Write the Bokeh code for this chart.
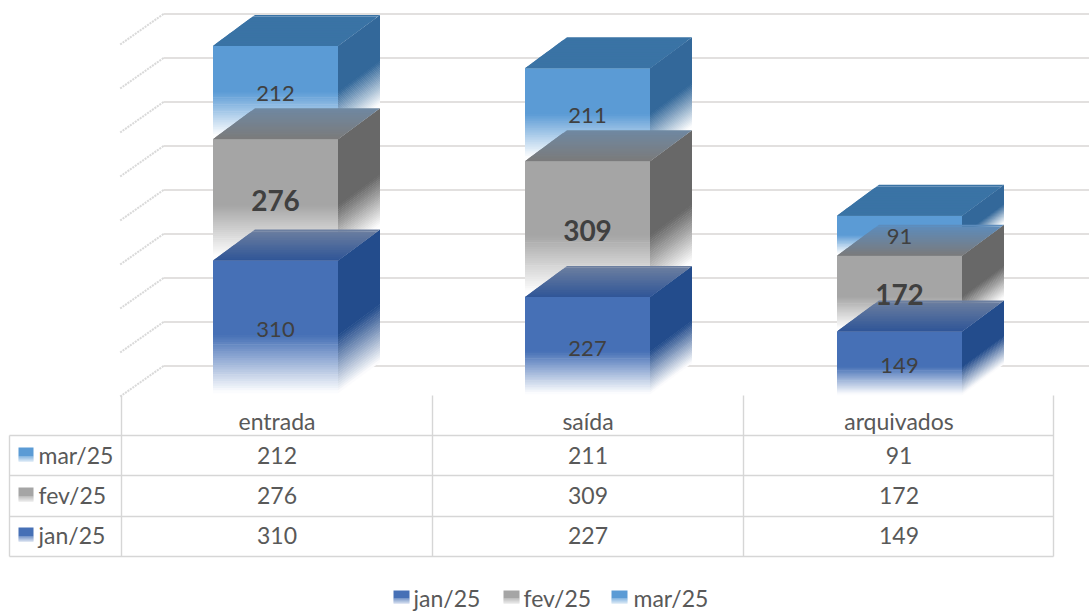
from bokeh.plotting import figure
from bokeh.models import Range1d
from bokeh.core.properties import value
from bokeh.embed import file_html
from bokeh.resources import INLINE

categories = ["entrada", "saída", "arquivados"]
jan = [310, 227, 149]
fev = [276, 309, 172]
mar = [212, 211, 91]
y_ticks = [0, 100, 200, 300, 400, 500, 600, 700, 800]
series_names = ["jan/25", "fev/25", "mar/25"]

W, H = 1089, 612
PX_X = 312.0      # px per category
PX_Y = 0.44       # px per unit
CX0, BASE = 275.0, 396.5
BAR_W = 125 / PX_X
DX = 42 / PX_X
DY = 31 / PX_Y
FONT = value("Lato")

styles = {
    "mar/25": dict(front="#5B9BD5", side="#33689A", top_front="#3A73A5", top_back=["#3A73A5"] * 3, solid=0.5, bold=False),
    "fev/25": dict(front="#A5A5A5", side="#686868", top_front="#7B7B7B", top_back=["#6F88A2", "#6F88A2", "#5C8CBE"], solid=0.55, bold=True),
    "jan/25": dict(front="#4670B6", side="#234C8C", top_front="#2F5597", top_back=["#6E80A0"] * 3, solid=0.55, bold=False),
}
stack = {"jan/25": jan, "fev/25": fev, "mar/25": mar}
below = {"jan/25": [], "fev/25": [jan], "mar/25": [jan, fev]}


def mix(c1, c2, t):
    a = [int(c1[i:i + 2], 16) for i in (1, 3, 5)]
    b = [int(c2[i:i + 2], 16) for i in (1, 3, 5)]
    return "#%02x%02x%02x" % tuple(round(a[i] + (b[i] - a[i]) * t) for i in range(3))


p = figure(width=W, height=H, output_backend="svg", toolbar_location=None, min_border=0,
           x_range=Range1d(-CX0 / PX_X, (W - CX0) / PX_X),
           y_range=Range1d((BASE - H) / PX_Y, BASE / PX_Y))
p.axis.visible = False
p.grid.visible = False
p.outline_line_color = None
p.extra_x_ranges["px"] = Range1d(0, W)
p.extra_y_ranges["px"] = Range1d(H, 0)

# back wall gridlines and the unreadable slanted tick labels
n = len(y_ticks)
p.segment([163] * n, [t + DY for t in y_ticks], [W] * n, [t + DY for t in y_ticks],
          x_range_name="px", line_color="#d9d6d4", line_width=1.6)
p.segment([163] * n, [t + DY for t in y_ticks], [119] * n, y_ticks,
          x_range_name="px", line_color="#cfcfcf", line_width=2, line_dash="2 1", line_alpha=0.8)

FADE = 26
for name in ["mar/25", "fev/25", "jan/25"]:
    st = styles[name]
    fl, fr, ft, fb, fc = [], [], [], [], []
    sx, sy, sc = [], [], []
    tx, ty, tc = [], [], []
    for i in range(len(categories)):
        v0 = sum(s[i] for s in below[name])
        h = stack[name][i]
        v1 = v0 + h
        x0, x1 = i - BAR_W / 2, i + BAR_W / 2
        fs = [0, st["solid"]] + [st["solid"] + (0.99 - st["solid"]) * (k + 1) / FADE for k in range(FADE)]
        for k in range(len(fs) - 1):
            t = 0 if k == 0 else (k - 0.5) / (FADE - 1)
            pad = 0 if k == 0 else 1.5
            vt, vb = v1 - fs[k] * h + pad, v1 - fs[k + 1] * h
            fl.append(x0); fr.append(x1); ft.append(vt); fb.append(vb)
            fc.append(mix(st["front"], "#ffffff", t))
            sx.append([x1, x1 + DX, x1 + DX, x1])
            sy.append([vt, vt + DY, vb + DY, vb])
            sc.append(mix(st["side"], "#ffffff", t))
        for k in range(18):
            a, b = 1 - k / 18, 1 - (k + 1) / 18
            b2 = max(b - (0.06 if k else 0), 0)
            tx.append([x0 + b2 * DX, x1 + b2 * DX, x1 + a * DX, x0 + a * DX])
            ty.append([v1 + b2 * DY, v1 + b2 * DY, v1 + a * DY, v1 + a * DY])
            tc.append(mix(st["top_front"], st["top_back"][i], (a + b) / 2))
    p.quad(left=fl, right=fr, top=ft, bottom=fb, fill_color=fc, line_color=None)
    p.patches(sx, sy, fill_color=sc, line_color=None)
    p.patches(tx, ty, fill_color=tc, line_color=None)

# data labels on the front faces
for name in ["mar/25", "fev/25", "jan/25"]:
    st = styles[name]
    xs = list(range(len(categories)))
    ys = [sum(s[i] for s in below[name]) + stack[name][i] / 2 for i in xs]
    p.text(xs, ys, text=[str(v) for v in stack[name]], text_align="center", text_baseline="middle",
           text_font=FONT, text_color="#404040", y_offset=1,
           text_font_size="28px" if st["bold"] else "22px",
           text_font_style="bold" if st["bold"] else "normal")

# data table
GRID = "#d6d6d6"
col_x = [121, 432, 743, 1053]
row_y = [435, 475, 516, 556]
p.segment(col_x, [395] * 4, col_x, [556] * 4, x_range_name="px", y_range_name="px", line_color=GRID, line_width=1.4)
p.segment([9] * 4, row_y, [1053] * 4, row_y, x_range_name="px", y_range_name="px", line_color=GRID, line_width=1.4)
p.segment([9], [435], [9], [556], x_range_name="px", y_range_name="px", line_color=GRID, line_width=1.4)

TXT = "#595959"
centers = [276.5, 587.5, 898.5]
p.text(centers, [420] * 3, text=categories, x_range_name="px", y_range_name="px", text_align="center",
       text_baseline="middle", text_font=FONT, text_font_size="23px", text_color=TXT)
rows = [("mar/25", 455), ("fev/25", 495), ("jan/25", 535)]


def swatch(x0, x1, yt, yb, color):
    steps = 6
    ys = [yt + (yb - yt) * (0 if k == 0 else 0.55 + 0.45 * k / steps) for k in range(steps + 1)]
    p.quad(left=[x0] * steps, right=[x1] * steps, top=ys[:-1], bottom=ys[1:],
           fill_color=[mix(color, "#ffffff", 0.75 * k / steps) for k in range(steps)], line_color=None,
           x_range_name="px", y_range_name="px")


for name, y in rows:
    vals = [str(v) for v in stack[name]]
    p.text(centers, [y] * 3, text=vals, x_range_name="px", y_range_name="px", text_align="center",
           text_baseline="middle", text_font=FONT, text_font_size="23px", text_color=TXT)
    p.text([38], [y - 1], text=[name], x_range_name="px", y_range_name="px", text_align="left",
           text_baseline="middle", text_font=FONT, text_font_size="23px", text_color=TXT)
    swatch(18, 33, y - 8, y + 6, styles[name]["front"])

# legend
for name, sx0, tx0 in zip(series_names, [393, 503, 611], [413, 523, 633]):
    swatch(sx0, sx0 + 16, 590, 603, styles[name]["front"])
    p.text([tx0], [597], text=[name], x_range_name="px", y_range_name="px", text_align="left",
           text_baseline="middle", text_font=FONT, text_font_size="23px", text_color=TXT)

open("out.html", "w").write(file_html(p, INLINE))
